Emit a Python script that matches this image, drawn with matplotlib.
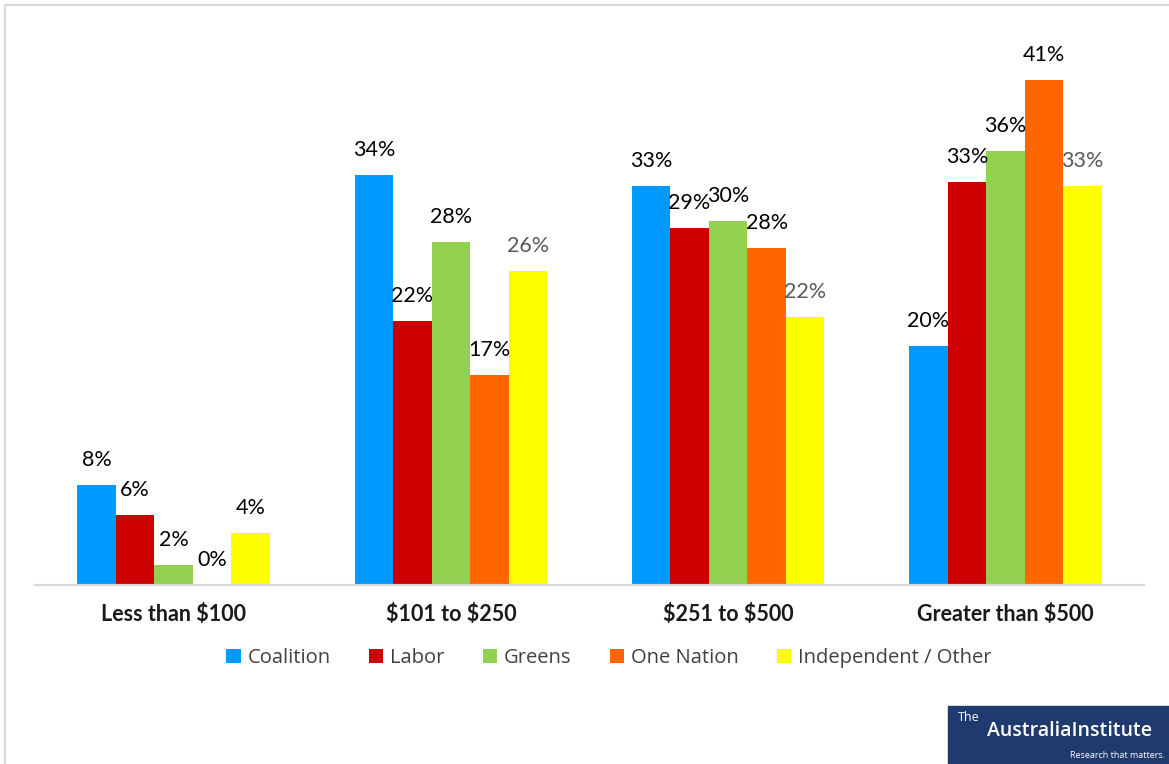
import numpy as np
import matplotlib
matplotlib.use('Agg')
import matplotlib.pyplot as plt
from matplotlib.lines import Line2D
from matplotlib.patches import Rectangle

plt.rcParams['text.parse_math'] = False

# Data
categories = ['Less than $100', '$101 to $250', '$251 to $500', 'Greater than $500']
parties = ['Coalition', 'Labor', 'Greens', 'One Nation', 'Independent / Other']
coalition = [8.2, 33.6, 32.7, 19.6]
labor = [5.7, 21.6, 29.3, 33.0]
greens = [1.6, 28.1, 29.8, 35.6]
one_nation = [0.0, 17.2, 27.6, 41.4]
independent = [4.3, 25.7, 22.0, 32.7]
series = [coalition, labor, greens, one_nation, independent]

colors = ['#0099FF', '#CC0000', '#92D050', '#FF6600', '#FFFF00']

W, H = 1169, 764
fig = plt.figure(figsize=(W / 100, H / 100), dpi=100)
ax = fig.add_axes([35 / W, (H - 585) / H, 1109 / W, 549 / H])

x = np.arange(len(categories))
bw = 0.139
for i, (vals, c) in enumerate(zip(series, colors)):
    xs = x + (i - 2) * bw
    ax.bar(xs, vals, width=bw, color=c, label=parties[i], linewidth=0)
    for j, (xi, v) in enumerate(zip(xs, vals)):
        # the independent labels are grey except in the first group
        lc = '#595959' if (i == 4 and j > 0) else '#000000'
        ax.annotate(f'{round(v)}%', (xi, v), xytext=(0, 18), textcoords='offset points',
                    ha='center', va='center', fontsize=15.5, family='Lato', color=lc)

ax.set_xlim(-0.5, 3.5)
ax.set_ylim(0, 45)
ax.set_yticks([])
ax.set_xticks(x)
ax.set_xticklabels(categories, fontsize=15.5, fontweight='bold', family='Lato', color='#1a1a1a')
ax.tick_params(axis='x', length=0, pad=14)
for s in ['top', 'right', 'left']:
    ax.spines[s].set_visible(False)
ax.spines['bottom'].set_color('#D9D9D9')
ax.spines['bottom'].set_linewidth(1.6)

leg = fig.legend(loc='center', bbox_to_anchor=(609 / W, (H - 658) / H), ncol=5,
                 frameon=False, handlelength=0.7, handleheight=0.7, handletextpad=0.35,
                 columnspacing=1.9, prop={'family': 'Open Sans', 'size': 14.5})
for t in leg.get_texts():
    t.set_color('#404040')

# Chart frame (top and left edges visible)
fig.add_artist(Line2D([5 / W, 1.0], [1 - 5 / H, 1 - 5 / H], color='#D9D9D9', lw=1.6))
fig.add_artist(Line2D([5 / W, 5 / W], [0, 1 - 5 / H], color='#D9D9D9', lw=1.6))

# Logo box
fig.add_artist(Rectangle((948 / W, 0), 221 / W, 58 / H, color='#1F3A6E', transform=fig.transFigure))
fig.text(958 / W, (H - 724) / H, 'The', color='white', fontsize=9, family='Open Sans',
         va='bottom')
fig.text(987 / W, (H - 731) / H, 'AustraliaInstitute', color='white', fontsize=14,
         family='Open Sans', fontweight='semibold', va='center')
fig.text(1165 / W, (H - 756) / H, 'Research that matters.', color='white', fontsize=6.5,
         family='Open Sans', ha='right', va='center')

fig.savefig('out.png', dpi=100, facecolor='white')
